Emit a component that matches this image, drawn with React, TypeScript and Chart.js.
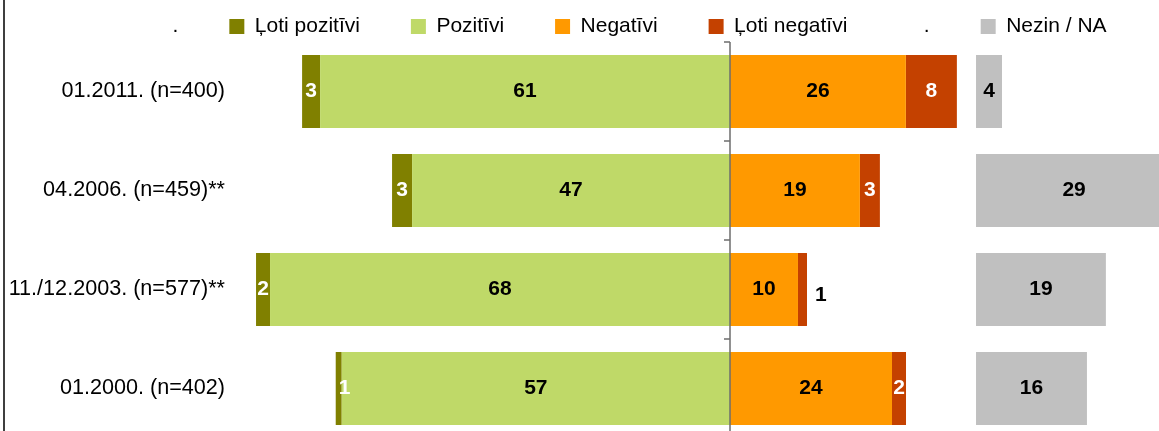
import React, { useEffect, useRef } from 'react';
import { Chart, registerables } from 'chart.js';

Chart.register(...registerables);

// ---- data (percent) ----
const categories = ['01.2011. (n=400)', '04.2006. (n=459)**', '11./12.2003. (n=577)**', '01.2000. (n=402)'];
const lotiPozitivi = [2.66, 2.96, 2.07, 0.89];
const pozitivi = [60.6, 47.0, 68.0, 57.4];
const negativi = [26.0, 19.2, 10.05, 23.95];
const lotiNegativi = [7.54, 2.96, 1.33, 2.07];
const nezin = [3.84, 29.0, 19.2, 16.4];

const legendTexts = ['.', 'Ļoti pozitīvi', 'Pozitīvi', 'Negatīvi', 'Ļoti negatīvi', '.', 'Nezin / NA'];

const COLORS = {
  lotiPoz: '#808000',
  poz: '#BFD968',
  neg: '#FF9900',
  lotiNeg: '#C44100',
  nezin: '#C0C0C0',
};

const FONT = '"Liberation Sans", Arial, sans-serif';

const labelColors = ['#000000', '#FFFFFF', '#000000', '#FFFFFF', '#000000'];

const zeroAxisPlugin = {
  id: 'zeroAxis',
  afterDatasetsDraw(chart: any) {
    const { ctx, chartArea, scales } = chart;
    const x0 = scales.x.getPixelForValue(0);
    ctx.save();
    ctx.strokeStyle = '#6E6E6E';
    ctx.lineWidth = 1.5;
    ctx.beginPath();
    ctx.moveTo(x0, chartArea.top);
    ctx.lineTo(x0, chartArea.bottom);
    for (let i = 0; i <= categories.length; i++) {
      const yy = scales.y.getPixelForValue(i - 0.5);
      ctx.moveTo(x0, yy);
      ctx.lineTo(x0 - 6, yy);
    }
    ctx.stroke();
    ctx.restore();
  },
};

// move the legend row to the right, where the reference starts it
const legendShiftPlugin = {
  id: 'legendShift',
  afterLayout(chart: any) {
    const lg = chart.legend;
    if (lg) {
      lg.left += 96;
      lg.right += 96;
    }
  },
};

const barLabelPlugin = {
  id: 'barLabels',
  afterDatasetsDraw(chart: any) {
    const ctx = chart.ctx;
    ctx.save();
    ctx.font = `bold 21px ${FONT}`;
    ctx.textBaseline = 'middle';
    chart.data.datasets.forEach((ds: any, di: number) => {
      const meta = chart.getDatasetMeta(di);
      meta.data.forEach((el: any, i: number) => {
        const v = ds.data[i];
        if (v === null || v === undefined) return;
        const txt = String(Math.round(Math.abs(v)));
        const p = el.getProps(['x', 'base', 'y'], true);
        const left = Math.min(p.x, p.base);
        const right = Math.max(p.x, p.base);
        const w = right - left;
        const tw = ctx.measureText(txt).width;
        let tx = (left + right) / 2;
        let ty = p.y;
        let align: CanvasTextAlign = 'center';
        let color = labelColors[di];
        if (w < tw) {
          if (v < 0) {
            align = 'left';
            tx = left + 3;
          } else {
            align = 'left';
            tx = right + 8;
            ty = p.y + 6;
            color = '#000000';
          }
        }
        ctx.textAlign = align;
        ctx.fillStyle = color;
        ctx.fillText(txt, tx, ty);
      });
    });
    ctx.restore();
  },
};

export default function App() {
  const canvasRef = useRef<HTMLCanvasElement | null>(null);

  useEffect(() => {
    if (!canvasRef.current) return;
    const nezinOffset = 36.37;
    const xMin = -72.44;
    const xMax = 68.3;
    const legendColors = ['rgba(0,0,0,0)', COLORS.lotiPoz, COLORS.poz, COLORS.neg, COLORS.lotiNeg, 'rgba(0,0,0,0)', COLORS.nezin];

    const chart = new Chart(canvasRef.current, {
      type: 'bar',
      data: {
        labels: categories,
        datasets: [
          { label: 'Pozitīvi', data: pozitivi.map((v) => -v), backgroundColor: COLORS.poz, xAxisID: 'x' },
          { label: 'Ļoti pozitīvi', data: lotiPozitivi.map((v) => -v), backgroundColor: COLORS.lotiPoz, xAxisID: 'x' },
          { label: 'Negatīvi', data: negativi, backgroundColor: COLORS.neg, xAxisID: 'x' },
          { label: 'Ļoti negatīvi', data: lotiNegativi, backgroundColor: COLORS.lotiNeg, xAxisID: 'x' },
          { label: 'Nezin / NA', data: nezin, backgroundColor: COLORS.nezin, xAxisID: 'x2' },
        ],
      },
      options: {
        indexAxis: 'y',
        animation: false,
        responsive: true,
        maintainAspectRatio: false,
        events: [],
        layout: { padding: { left: 0, top: 0, right: 0, bottom: 0 } },
        datasets: {
          bar: { barPercentage: 0.737, categoryPercentage: 1, borderWidth: 0 },
        },
        scales: {
          x: { type: 'linear', display: false, stacked: true, min: xMin, max: xMax },
          x2: { type: 'linear', display: false, stacked: true, position: 'bottom', min: xMin - nezinOffset, max: xMax - nezinOffset },
          y: {
            type: 'category',
            stacked: true,
            grid: { display: false, drawTicks: false },
            border: { display: false },
            ticks: { color: '#000000', padding: 15, font: { size: 21.6, family: FONT } },
            afterFit: (scale: any) => {
              scale.width = 240;
              scale.paddingTop = 0;
              scale.paddingBottom = 0;
            },
          },
        },
        plugins: {
          tooltip: { enabled: false },
          title: { display: false },
          legend: {
            display: true,
            position: 'top',
            align: 'start',
            maxHeight: 77,
            onClick: () => {},
            labels: {
              boxWidth: 15,
              boxHeight: 15,
              padding: 51,
              color: '#000000',
              font: { size: 21, family: FONT },
              generateLabels: () =>
                legendTexts.map((t, i) => ({
                  text: t,
                  fillStyle: legendColors[i],
                  strokeStyle: legendColors[i],
                  lineWidth: 0,
                  hidden: false,
                  fontColor: '#000000',
                })),
            },
          },
        },
      },
      plugins: [legendShiftPlugin, zeroAxisPlugin, barLabelPlugin],
    } as any);

    return () => chart.destroy();
  }, []);

  return (
    <div style={{ position: 'fixed', left: 0, top: 0, width: 1159, height: 431, overflow: 'hidden', background: '#FFFFFF' }}>
      <div style={{ position: 'absolute', left: 0, top: -35, width: 1192, height: 473 }}>
        <canvas ref={canvasRef} />
      </div>
      <div style={{ position: 'absolute', left: 3, top: 0, width: 2, height: 431, background: '#3F3F3F' }} />
    </div>
  );
}
